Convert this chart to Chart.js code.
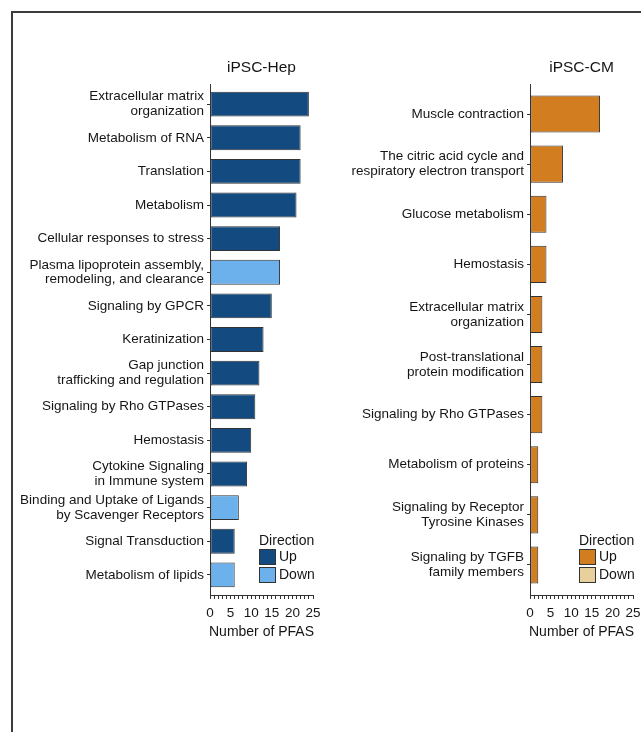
<!DOCTYPE html>
<html>
<head>
<meta charset="utf-8">
<script src="https://cdn.jsdelivr.net/npm/chart.js@4"></script>
<style>
  body { margin: 0; background: #fff; }
  #page { position: relative; width: 641px; height: 732px; overflow: hidden; }
  #frame { position: absolute; left: 11px; top: 11px; width: 700px; height: 800px;
           border-top: 2px solid #3c3c3c; border-left: 2px solid #3c3c3c; }
  canvas { position: absolute; top: 0; }
  #hep { left: 0; }
  #cm { left: 320px; }
</style>
</head>
<body>
<div id="page">
  <div id="frame"></div>
  <canvas id="hep" width="330" height="700"></canvas>
  <canvas id="cm" width="340" height="700"></canvas>
</div>
<script>
// pathways enriched per cell type, top to bottom
const hepPathways = [
  'Extracellular matrix\norganization',
  'Metabolism of RNA',
  'Translation',
  'Metabolism',
  'Cellular responses to stress',
  'Plasma lipoprotein assembly,\nremodeling, and clearance',
  'Signaling by GPCR',
  'Keratinization',
  'Gap junction\ntrafficking and regulation',
  'Signaling by Rho GTPases',
  'Hemostasis',
  'Cytokine Signaling\nin Immune system',
  'Binding and Uptake of Ligands\nby Scavenger Receptors',
  'Signal Transduction',
  'Metabolism of lipids'
];
const hepCounts = [24, 22, 22, 21, 17, 17, 15, 13, 12, 11, 10, 9, 7, 6, 6];
const hepDirection = ['Up', 'Up', 'Up', 'Up', 'Up', 'Down', 'Up', 'Up', 'Up', 'Up', 'Up', 'Up', 'Down', 'Up', 'Down'];

const cmPathways = [
  'Muscle contraction',
  'The citric acid cycle and\nrespiratory electron transport',
  'Glucose metabolism',
  'Hemostasis',
  'Extracellular matrix\norganization',
  'Post-translational\nprotein modification',
  'Signaling by Rho GTPases',
  'Metabolism of proteins',
  'Signaling by Receptor\nTyrosine Kinases',
  'Signaling by TGFB\nfamily members'
];
const cmCounts = [17, 8, 4, 4, 3, 3, 3, 2, 2, 2];
const cmDirection = ['Up', 'Up', 'Up', 'Up', 'Up', 'Up', 'Up', 'Up', 'Up', 'Up'];

const xTicks = [0, 5, 10, 15, 20, 25];
const directions = ['Up', 'Down'];

const hepColors = { Up: '#134b80', Down: '#6db1ec' };
const cmColors = { Up: '#d17d20', Down: '#e8d09c' };

const FONT = '"Liberation Sans", Arial, sans-serif';
const INK = '#151515';
const LINE = '#333';
Chart.defaults.font.family = FONT;

// panel title, x axis title and the Direction key inside the plot's lower right
const panelDecor = {
  id: 'panelDecor',
  afterDraw(chart, args, opts) {
    const { ctx, chartArea } = chart;
    const cx = (chartArea.left + chartArea.right) / 2;
    ctx.save();
    ctx.fillStyle = INK;
    ctx.textBaseline = 'middle';
    ctx.textAlign = 'center';
    ctx.font = '15.5px ' + FONT;
    ctx.fillText(opts.title, cx, 68);
    ctx.font = '14px ' + FONT;
    ctx.fillText('Number of PFAS', cx, 632);

    const lx = chartArea.left + 49;
    ctx.textAlign = 'left';
    ctx.fillText('Direction', lx, 541);
    directions.forEach((d, i) => {
      const y = 549 + i * 18;
      ctx.fillStyle = opts.colors[d];
      ctx.fillRect(lx, y, 17, 16);
      ctx.strokeStyle = LINE;
      ctx.lineWidth = 1;
      ctx.strokeRect(lx + 0.5, y + 0.5, 16, 15);
      ctx.fillStyle = INK;
      ctx.fillText(d, lx + 20, y + 8.5);
    });
    ctx.restore();
  }
};

function makePanel(id, pathways, counts, direction, colors, title, rightPad) {
  const n = pathways.length;
  return new Chart(document.getElementById(id), {
    type: 'bar',
    data: {
      datasets: [{
        data: counts.map((v, i) => ({ x: v, y: i })),
        backgroundColor: direction.map(d => colors[d]),
        borderColor: LINE,
        borderWidth: 1,
        borderSkipped: false,
        barPercentage: 0.74,
        categoryPercentage: 1
      }]
    },
    options: {
      indexAxis: 'y',
      responsive: false,
      animation: false,
      layout: { padding: { left: 0, top: 84, right: rightPad, bottom: 58 } },
      plugins: {
        legend: { display: false },
        tooltip: { enabled: false },
        panelDecor: { title: title, colors: colors }
      },
      scales: {
        x: {
          type: 'linear',
          min: 0,
          max: 25,
          afterFit: s => { s.height = 47; },
          border: { color: LINE, width: 1 },
          grid: { drawOnChartArea: false, tickLength: 4, tickColor: LINE },
          ticks: {
            stepSize: 1,
            autoSkip: false,
            maxRotation: 0,
            padding: 6,
            color: INK,
            font: { size: 13.5 },
            callback: v => xTicks.includes(v) ? String(v) : ''
          }
        },
        y: {
          type: 'linear',
          reverse: true,
          offset: false,
          min: -0.6,
          max: n - 0.4,
          afterFit: s => { s.width = 210; },
          afterBuildTicks: s => {
            s.ticks = s.ticks.filter(t => Number.isInteger(t.value) && t.value >= 0 && t.value < n);
          },
          border: { color: LINE, width: 1 },
          grid: { drawOnChartArea: false, offset: false, tickLength: 3, tickColor: LINE },
          ticks: {
            stepSize: 1,
            includeBounds: false,
            autoSkip: false,
            padding: 3,
            color: INK,
            font: { size: 13.5, lineHeight: 1.1 },
            callback: v => pathways[v].split('\n')
          }
        }
      }
    },
    plugins: [panelDecor]
  });
}

makePanel('hep', hepPathways, hepCounts, hepDirection, hepColors, 'iPSC-Hep', 17);
makePanel('cm', cmPathways, cmCounts, cmDirection, cmColors, 'iPSC-CM', 27);
</script>
</body>
</html>
